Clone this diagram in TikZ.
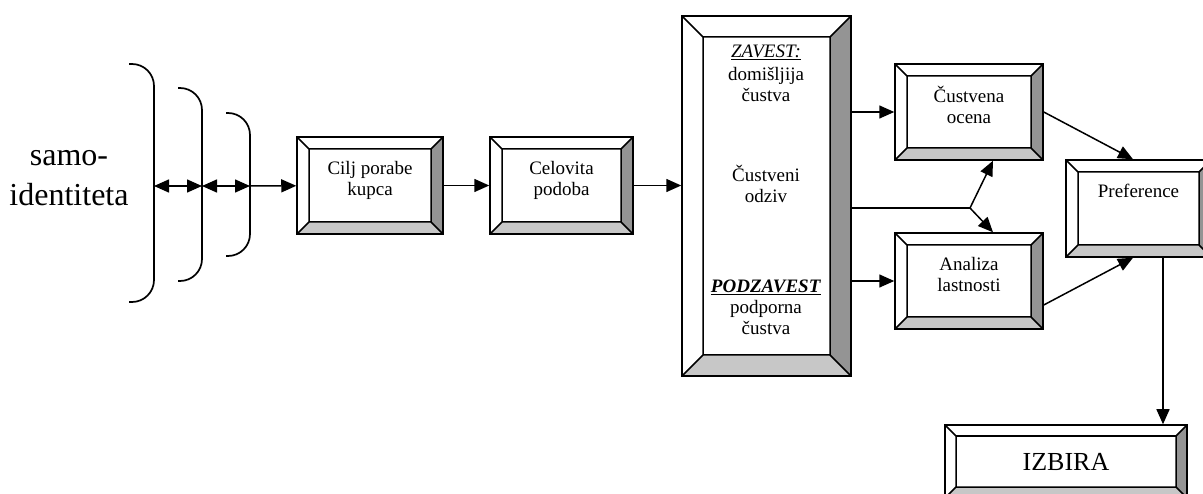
\documentclass[tikz,border=0pt]{standalone}
\usepackage{fontspec}
\setmainfont{Liberation Serif}
\usetikzlibrary{arrows.meta,calc}

\newcommand\boxfont{\fontsize{19}{21}\selectfont}

\tikzset{
  arr/.style={-{Triangle[length=15pt,width=13pt]},line width=1.5pt},
  dbl/.style={{Triangle[length=15pt,width=13pt]}-{Triangle[length=15pt,width=13pt]},line width=1.5pt},
  brk/.style={line width=1.7pt,rounded corners=22pt},
  txt/.style={align=center,font=\boxfont,inner sep=0pt},
  bevelbox/.style={draw,line width=1.5pt,fill=white,inner sep=0pt,align=center,font=\boxfont,
    path picture={
      \path (path picture bounding box.north west) coordinate (pnw)
            (path picture bounding box.north east) coordinate (pne)
            (path picture bounding box.south west) coordinate (psw)
            (path picture bounding box.south east) coordinate (pse)
            ([shift={(#1pt,-#1pt)}]pnw) coordinate (qnw)
            ([shift={(-#1pt,-#1pt)}]pne) coordinate (qne)
            ([shift={(#1pt,#1pt)}]psw) coordinate (qsw)
            ([shift={(-#1pt,#1pt)}]pse) coordinate (qse);
      \fill[black!42] (pne) -- (pse) -- (qse) -- (qne) -- cycle;
      \fill[black!22] (psw) -- (pse) -- (qse) -- (qsw) -- cycle;
      \draw[line width=1.5pt] (qnw) rectangle (qse)
        (pnw) -- (qnw) (pne) -- (qne) (psw) -- (qsw) (pse) -- (qse);
    }}
}

\begin{document}
\begin{tikzpicture}[x=1pt,y=-1pt]
  \useasboundingbox (0,0) rectangle (1203,494);

  % samo-identiteta and the brackets
  \node[align=center,inner sep=0pt,font=\fontsize{32}{40}\selectfont] (samo) at (69,178) {samo-\\identiteta};
  \draw[brk] (129,64) -| (154,186) |- (129,302);
  \draw[brk] (178,88) -| (202,186) |- (178,281);
  \draw[brk] (226,113) -| (250,186) |- (226,256);
  \coordinate (brk1) at (154,186);
  \coordinate (brk2) at (202,186);
  \coordinate (brk3) at (250,186);

  \node[bevelbox=12,minimum width=146pt,minimum height=97pt,text depth=14pt] (cilj) at (370,185.5) {Cilj porabe\\kupca};
  \node[bevelbox=12,minimum width=143pt,minimum height=97pt,text depth=14pt] (celov) at (561.5,185.5) {Celovita\\podoba};
  \node[bevelbox=21,minimum width=169pt,minimum height=360pt] (odziv) at (766.5,196) {};
  \node[txt] (zavest) at (766,73) {\underline{\textit{ZAVEST:}}\\[2pt]domišljija\\čustva};
  \node[txt] (cust) at (766,184) {Čustveni\\odziv};
  \node[txt] (podzavest) at (766,307) {\underline{\textbf{\textit{PODZAVEST}}}\\podporna\\čustva};
  \node[bevelbox=12,minimum width=148pt,minimum height=96pt,text depth=14pt] (ocena) at (969,112) {Čustvena\\ocena};
  \node[bevelbox=12,minimum width=148pt,minimum height=96pt,text depth=14pt] (analiza) at (969,281) {Analiza\\lastnosti};
  \node[bevelbox=12,minimum width=145pt,minimum height=97pt,text depth=36pt] (pref) at (1138.5,208.5) {Preference};
  \node[bevelbox=11,minimum width=242pt,minimum height=73pt,font=\fontsize{26}{30}\selectfont] (izbira) at (1066,461.5) {IZBIRA};

  \coordinate (split) at (970,208);

  \draw[dbl] (brk1) -- (brk2);
  \draw[dbl] (brk2) -- (brk3);
  \draw[arr] (brk3) -- (cilj);
  \draw[arr] (cilj) -- (celov);
  \draw[arr] (celov.east) -- (celov.east -| odziv.west);
  \draw[arr] (odziv.east |- ocena.west) -- (ocena.west);
  \draw[arr] (odziv.east |- analiza.west) -- (analiza.west);
  \draw[line width=1.5pt] (odziv.east |- split) -- (split);
  \draw[arr] (split) -- ([xshift=24pt]ocena.south);
  \draw[arr] (split) -- ([xshift=24pt]analiza.north);
  \draw[arr] (ocena.east) -- ([xshift=-5.5pt]pref.north);
  \draw[arr] ([yshift=-24pt]analiza.east) -- ([xshift=-5.5pt]pref.south);
  \draw[arr] ([xshift=24.5pt]pref.south) -- ([xshift=24.5pt]pref.south |- izbira.north);
\end{tikzpicture}
\end{document}
